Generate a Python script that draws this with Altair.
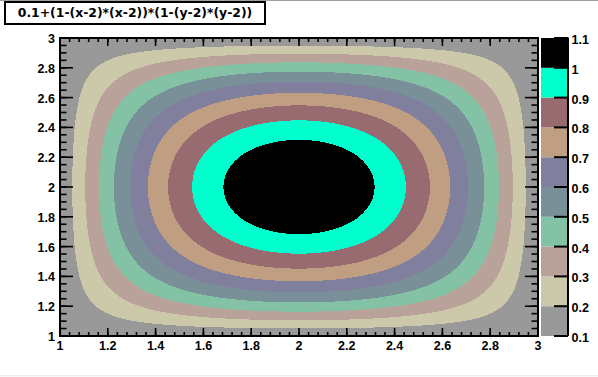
import numpy as np
import pandas as pd
import altair as alt

alt.data_transformers.disable_max_rows()

# ---- chart values ----
TITLE = "0.1+(1-(x-2)*(x-2))*(1-(y-2)*(y-2))"
X_RANGE = [1.0, 3.0]
Y_RANGE = [1.0, 3.0]
NX, NY = 478, 298                      # histogram bins in x and y
LEVELS = [0.1, 0.2, 0.3, 0.4, 0.5, 0.6, 0.7, 0.8, 0.9, 1.0, 1.1]
LEVEL_LABELS = ["0.1", "0.2", "0.3", "0.4", "0.5", "0.6", "0.7", "0.8", "0.9", "1", "1.1"]
BAND_COLORS = ["#999999", "#ccc8aa", "#b9a29a", "#84c2a5", "#7a9098",
               "#807f9e", "#bf9e81", "#976b70", "#00ffcc", "#000000"]
X_MAJOR = [1, 1.2, 1.4, 1.6, 1.8, 2, 2.2, 2.4, 2.6, 2.8, 3]
X_LABELS = ["1", "1.2", "1.4", "1.6", "1.8", "2", "2.2", "2.4", "2.6", "2.8", "3"]
Y_MAJOR = [1, 1.2, 1.4, 1.6, 1.8, 2, 2.2, 2.4, 2.6, 2.8, 3]
Y_LABELS = ["1", "1.2", "1.4", "1.6", "1.8", "2", "2.2", "2.4", "2.6", "2.8", "3"]
X_MINOR = [round(1 + 0.04 * k, 2) for k in range(51)]
Y_MINOR = [round(1 + 0.05 * k, 2) for k in range(41)]


def func(x, y):
    return 0.1 + (1 - (x - 2) * (x - 2)) * (1 - (y - 2) * (y - 2))


# ---- build cell table (run-length merged per row) ----
dx = (X_RANGE[1] - X_RANGE[0]) / NX
dy = (Y_RANGE[1] - Y_RANGE[0]) / NY
xc = X_RANGE[0] + (np.arange(NX) + 0.5) * dx
rows = []
for j in range(NY):
    yc = Y_RANGE[0] + (j + 0.5) * dy
    z = func(xc, yc)
    band = np.clip(np.floor((z - 0.1) / 0.1 + 1e-9).astype(int), 0, 9)
    start = 0
    for i in range(1, NX + 1):
        if i == NX or band[i] != band[start]:
            rows.append(dict(x=X_RANGE[0] + start * dx, x2=X_RANGE[0] + i * dx,
                             y=Y_RANGE[0] + j * dy, y2=Y_RANGE[0] + (j + 1) * dy,
                             band=str(int(band[start]))))
            start = i
cells = pd.DataFrame(rows)

bar = pd.DataFrame({"lo": LEVELS[:-1], "hi": LEVELS[1:],
                    "band": [str(k) for k in range(len(LEVELS) - 1)]})
lev = pd.DataFrame({"v": LEVELS, "lab": LEVEL_LABELS})
xmaj = pd.DataFrame({"v": X_MAJOR, "lab": X_LABELS})
ymaj = pd.DataFrame({"v": Y_MAJOR, "lab": Y_LABELS})
xmin_ = pd.DataFrame({"v": X_MINOR})
ymin_ = pd.DataFrame({"v": Y_MINOR})
one = pd.DataFrame({"t": [TITLE]})

W, H = 478, 298
LABEL_FONT = "Liberation Sans"
FS = 12.5

color_scale = alt.Scale(domain=[str(k) for k in range(10)], range=BAND_COLORS)
xs = alt.Scale(domain=X_RANGE, nice=False, zero=False)
ys = alt.Scale(domain=Y_RANGE, nice=False, zero=False)

heat = alt.Chart(cells).mark_rect().encode(
    x=alt.X("x:Q", scale=xs, axis=None), x2="x2:Q",
    y=alt.Y("y:Q", scale=ys, axis=None), y2="y2:Q",
    color=alt.Color("band:N", scale=color_scale, legend=None),
)

TK = dict(color="black", strokeWidth=1.6)


def xticks(df, length):
    b = alt.Chart(df).mark_rule(**TK).encode(
        x=alt.X("v:Q", scale=xs, axis=None), y=alt.value(H), y2=alt.value(H - length))
    t = alt.Chart(df).mark_rule(**TK).encode(
        x=alt.X("v:Q", scale=xs, axis=None), y=alt.value(0), y2=alt.value(length))
    return [b, t]


def yticks(df, length):
    l = alt.Chart(df).mark_rule(**TK).encode(
        y=alt.Y("v:Q", scale=ys, axis=None), x=alt.value(0), x2=alt.value(length))
    r = alt.Chart(df).mark_rule(**TK).encode(
        y=alt.Y("v:Q", scale=ys, axis=None), x=alt.value(W), x2=alt.value(W - length))
    return [l, r]


TXT = dict(font=LABEL_FONT, fontWeight="bold", fontSize=FS, color="black")
xlab = alt.Chart(xmaj).mark_text(align="center", baseline="top", **TXT).encode(
    x=alt.X("v:Q", scale=xs, axis=None), y=alt.value(H + 4), text="lab:N")
ylab = alt.Chart(ymaj).mark_text(align="right", baseline="middle", dy=1, **TXT).encode(
    y=alt.Y("v:Q", scale=ys, axis=None), x=alt.value(-5), text="lab:N")

frame = alt.Chart(one).mark_rect(fill=None, stroke="black", strokeWidth=2).encode(
    x=alt.value(0), x2=alt.value(W), y=alt.value(0), y2=alt.value(H))

title_box = alt.Chart(one).mark_rect(fill="white", stroke="black", strokeWidth=2).encode(
    x=alt.value(-55), x2=alt.value(205), y=alt.value(-36), y2=alt.value(-14))
title_txt = alt.Chart(one).mark_text(font="DejaVu Sans", fontWeight="bold", fontSize=12.4,
                                     color="black", align="center", baseline="middle").encode(
    x=alt.value(75), y=alt.value(-25), text="t:N")
top_line = alt.Chart(one).mark_rule(color="#a0a0a0", strokeWidth=1).encode(
    x=alt.value(-60), x2=alt.value(W + 60), y=alt.value(-37.5))
bot_line = alt.Chart(one).mark_rule(color="#e6e6e6", strokeWidth=1).encode(
    x=alt.value(-60), x2=alt.value(W + 60), y=alt.value(337.8))

main = alt.layer(heat, *xticks(xmin_, 4), *xticks(xmaj, 8), *yticks(ymin_, 6.5),
                 *yticks(ymaj, 13), frame, xlab, ylab, title_box, title_txt,
                 top_line, bot_line)

cs = alt.Scale(domain=[LEVELS[0], LEVELS[-1]], nice=False, zero=False)
cbar = alt.Chart(bar).mark_rect().encode(
    y=alt.Y("lo:Q", scale=cs, axis=None), y2="hi:Q",
    x=alt.value(481), x2=alt.value(508),
    color=alt.Color("band:N", scale=color_scale, legend=None),
)
cticks = alt.Chart(lev).mark_rule(color="black", strokeWidth=2).encode(
    y=alt.Y("v:Q", scale=cs, axis=None), x=alt.value(494), x2=alt.value(508))
cline = alt.Chart(one).mark_rule(color="black", strokeWidth=2).encode(
    x=alt.value(508), y=alt.value(-0.5), y2=alt.value(H))
clab = alt.Chart(lev).mark_text(align="left", baseline="middle", dy=2, **TXT).encode(
    y=alt.Y("v:Q", scale=cs, axis=None), x=alt.value(511.5), text="lab:N")
colorbar = alt.layer(cbar, cticks, cline, clab)

chart = alt.layer(main, colorbar).resolve_scale(y="independent").properties(
    width=W, height=H, autosize="none",
    padding={"left": 60, "top": 38, "right": 60, "bottom": 41},
    background="white",
).configure_view(stroke=None)

chart.save("out.html", embed_options={"renderer": "svg", "actions": False})
